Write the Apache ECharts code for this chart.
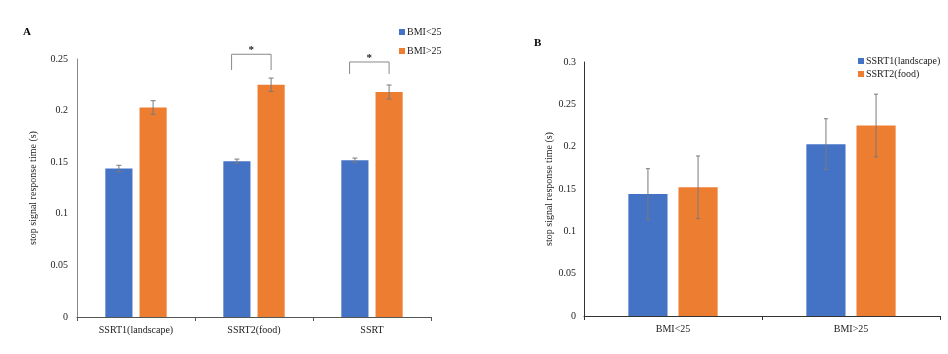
<!DOCTYPE html>
<html>
<head>
<meta charset="utf-8">
<script src="https://cdn.jsdelivr.net/npm/echarts@6/dist/echarts.min.js"></script>
<style>
  html, body { margin: 0; padding: 0; background: #fff; }
  #main { width: 948px; height: 354px; }
</style>
</head>
<body>
<div id="main"></div>
<script>
const catsA = ['SSRT1(landscape)', 'SSRT2(food)', 'SSRT']
const lowA = [0.144, 0.151, 0.152]
const lowErrA = [0.003, 0.002, 0.002]
const highA = [0.203, 0.225, 0.218]
const highErrA = [0.0066, 0.0065, 0.0068]

const catsB = ['BMI<25', 'BMI>25']
const ssrt1B = [0.144, 0.203]
const ssrt1ErrB = [0.03, 0.03]
const ssrt2B = [0.152, 0.225]
const ssrt2ErrB = [0.037, 0.037]

// [category, bracket top, leg end, star]
const bracketsA = [
  [1, 0.2546, 0.2393, 0.2585],
  [2, 0.2471, 0.2355, 0.251],
]

const font = "'Liberation Serif', 'Times New Roman', serif"
const errColor = '#7a7a7a'

// offset of each bar centre, as a share of the band width
const offA = 0.23 * 1.26 / 2
const offB = 0.22 * 1.28 / 2

const errData = (vals, errs) => vals.map((v, i) => [i, v, errs[i]])

const errSeries = (vals, errs, sign, off, cap, axis) => ({
  type: 'custom',
  xAxisIndex: axis,
  yAxisIndex: axis,
  silent: true,
  z: 5,
  data: errData(vals, errs),
  renderItem: (params, api) => {
    const i = api.value(0)
    const v = api.value(1)
    const e = api.value(2)
    const band = api.size([1, 0])[0]
    const top = api.coord([i, v + e])
    const bot = api.coord([i, v - e])
    const x = top[0] + sign * band * off
    const style = { stroke: errColor, lineWidth: 1 }
    return {
      type: 'group',
      children: [
        { type: 'line', shape: { x1: x, y1: top[1], x2: x, y2: bot[1] }, style },
        { type: 'line', shape: { x1: x - cap, y1: top[1], x2: x + cap, y2: top[1] }, style },
        { type: 'line', shape: { x1: x - cap, y1: bot[1], x2: x + cap, y2: bot[1] }, style },
      ],
    }
  },
})

var chartDom = document.getElementById('main')
var myChart = echarts.init(chartDom)
var option = {
  animation: false,
  textStyle: { fontFamily: font },
  title: [
    { text: 'A', left: 18, top: 22, textStyle: { fontFamily: font, fontSize: 11, fontWeight: 'bold', color: '#000' } },
    { text: 'B', left: 529, top: 33, textStyle: { fontFamily: font, fontSize: 11, fontWeight: 'bold', color: '#000' } },
  ],
  legend: [
    {
      data: ['BMI<25', 'BMI>25'],
      orient: 'vertical',
      left: 394,
      top: 21,
      itemWidth: 6,
      itemHeight: 6,
      itemGap: 7,
      icon: 'rect',
      textStyle: { fontFamily: font, fontSize: 10, color: '#222', lineHeight: 12, padding: [0, 0, 0, -3] },
    },
    {
      data: ['SSRT1(landscape)', 'SSRT2(food)'],
      orient: 'vertical',
      left: 853,
      top: 50,
      itemWidth: 6,
      itemHeight: 6,
      itemGap: 1,
      icon: 'rect',
      textStyle: { fontFamily: font, fontSize: 10, color: '#222', lineHeight: 12, padding: [0, 0, 0, -3] },
    },
  ],
  grid: [
    { left: 77, top: 59, width: 354, height: 258 },
    { left: 584, top: 62, width: 356, height: 254 },
  ],
  xAxis: [
    {
      type: 'category',
      gridIndex: 0,
      data: catsA,
      axisLine: { lineStyle: { color: '#555', width: 1 } },
      axisTick: { show: true, length: 4, lineStyle: { color: '#555' } },
      axisLabel: { fontFamily: font, fontSize: 10, color: '#222', margin: 8 },
    },
    {
      type: 'category',
      gridIndex: 1,
      data: catsB,
      axisLine: { lineStyle: { color: '#333', width: 1 } },
      axisTick: { show: true, length: 4, lineStyle: { color: '#333' } },
      axisLabel: { fontFamily: font, fontSize: 10, color: '#222', margin: 8 },
    },
  ],
  yAxis: [
    {
      type: 'value',
      gridIndex: 0,
      min: 0,
      max: 0.25,
      interval: 0.05,
      name: 'stop signal response time (s)',
      nameLocation: 'middle',
      nameGap: 39,
      nameTextStyle: { fontFamily: font, fontSize: 10, color: '#222' },
      axisLine: { show: true, lineStyle: { color: '#888', width: 1 } },
      axisTick: { show: false },
      splitLine: { show: false },
      axisLabel: { fontFamily: font, fontSize: 10, color: '#222', margin: 9 },
    },
    {
      type: 'value',
      gridIndex: 1,
      min: 0,
      max: 0.3,
      interval: 0.05,
      name: 'stop signal response time (s)',
      nameLocation: 'middle',
      nameGap: 28,
      nameTextStyle: { fontFamily: font, fontSize: 10, color: '#222' },
      axisLine: { show: true, lineStyle: { color: '#333', width: 1 } },
      axisTick: { show: false },
      splitLine: { show: false },
      axisLabel: { fontFamily: font, fontSize: 10, color: '#222', margin: 8 },
    },
  ],
  series: [
    {
      name: 'BMI<25',
      type: 'bar',
      xAxisIndex: 0,
      yAxisIndex: 0,
      data: lowA,
      barWidth: '23%',
      barGap: '26%',
      itemStyle: { color: '#4472C4' },
    },
    {
      name: 'BMI>25',
      type: 'bar',
      xAxisIndex: 0,
      yAxisIndex: 0,
      data: highA,
      barWidth: '23%',
      barGap: '26%',
      itemStyle: { color: '#ED7D31' },
    },
    {
      name: 'SSRT1(landscape)',
      type: 'bar',
      xAxisIndex: 1,
      yAxisIndex: 1,
      data: ssrt1B,
      barWidth: '22%',
      barGap: '28%',
      itemStyle: { color: '#4472C4' },
    },
    {
      name: 'SSRT2(food)',
      type: 'bar',
      xAxisIndex: 1,
      yAxisIndex: 1,
      data: ssrt2B,
      barWidth: '22%',
      barGap: '28%',
      itemStyle: { color: '#ED7D31' },
    },
    errSeries(lowA, lowErrA, -1, offA, 2.5, 0),
    errSeries(highA, highErrA, 1, offA, 2.5, 0),
    errSeries(ssrt1B, ssrt1ErrB, -1, offB, 2, 1),
    errSeries(ssrt2B, ssrt2ErrB, 1, offB, 2, 1),
    {
      type: 'custom',
      xAxisIndex: 0,
      yAxisIndex: 0,
      silent: true,
      data: bracketsA,
      renderItem: (params, api) => {
        const i = api.value(0)
        const band = api.size([1, 0])[0]
        const top = api.coord([i, api.value(1)])
        const leg = api.coord([i, api.value(2)])
        const star = api.coord([i, api.value(3)])
        const x1 = top[0] - band * 0.19
        const x2 = top[0] + band * offA
        const style = { stroke: '#888', lineWidth: 1, fill: 'none' }
        return {
          type: 'group',
          children: [
            {
              type: 'polyline',
              shape: { points: [[x1, leg[1]], [x1, top[1]], [x2, top[1]], [x2, leg[1]]] },
              style,
            },
            {
              type: 'text',
              style: {
                text: '*',
                x: (x1 + x2) / 2,
                y: star[1],
                align: 'center',
                verticalAlign: 'middle',
                font: 'bold 11px ' + font,
                fill: '#222',
              },
            },
          ],
        }
      },
    },
  ],
}
option && myChart.setOption(option)
window.onresize = () => {
  myChart.resize()
}
</script>
</body>
</html>
